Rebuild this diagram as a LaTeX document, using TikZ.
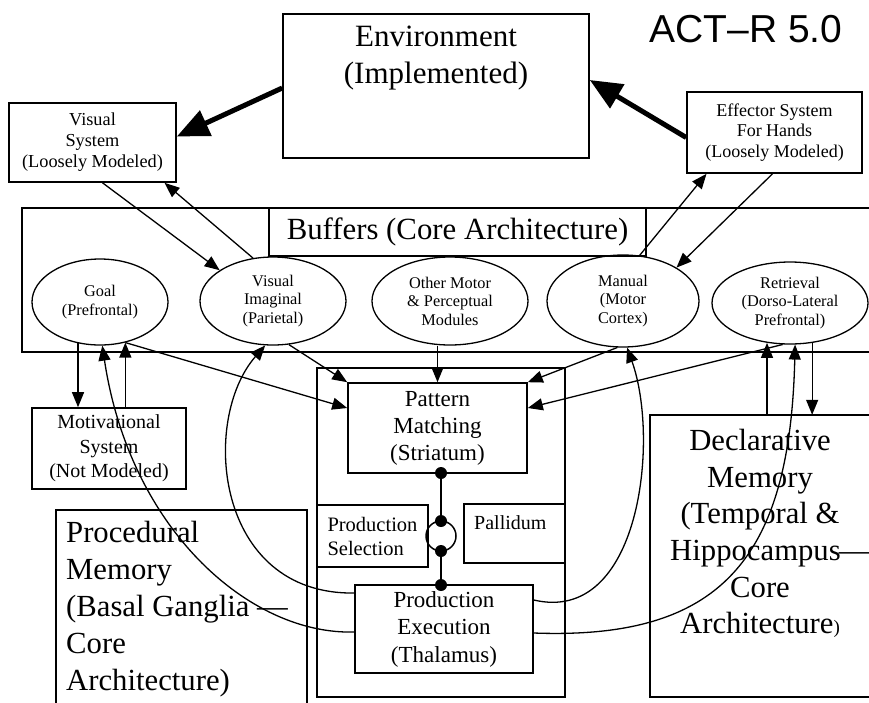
\documentclass[tikz,border=0pt]{standalone}
\usepackage{fontspec}
\setmainfont{Liberation Serif}
\newfontfamily\actfont{Liberation Sans}
\usetikzlibrary{shapes.geometric,arrows.meta,calc}
\tikzset{
  box/.style={draw, rectangle, line width=1.6pt, inner sep=0pt, align=center},
  openbox/.style={rectangle, inner sep=0pt},
  frame/.style={line width=1.6pt},
  thinbox/.style={draw, rectangle, line width=1.2pt, inner sep=0pt, align=center},
  ell/.style={draw, ellipse, line width=1.3pt, inner sep=0pt, align=center, font=\fontsize{16.3}{18.5}\selectfont},
  arr/.style={line width=1.3pt, -{Triangle[length=15pt,width=12pt]}},
  bigarr/.style={line width=5pt, -{Triangle[length=32pt,width=27pt]}},
  dotn/.style={circle, fill, inner sep=0pt, minimum size=12pt},
  txt/.style={inner sep=0pt, align=center},
}
\begin{document}
\begin{tikzpicture}[x=1pt,y=-1pt]
\useasboundingbox (0,0) rectangle (869,702);
\clip (0,0) rectangle (869,702);
\fill[white] (0,0) rectangle (869,702);

% large frames (open on the right: they run off the picture)
\node[openbox, minimum width=858pt, minimum height=144pt] (buf) at (451,280) {};
\draw[frame] (buf.north east) -- (buf.north west) -- (buf.south west) -- (buf.south east);
\node[box, minimum width=377pt, minimum height=48pt, font=\fontsize{30.8}{36}\selectfont] (bt) at (457.5,232) {Buffers (Core Architecture)};
\node[thinbox, minimum width=248pt, minimum height=329pt] (col) at (441,532.5) {};
\node[openbox, minimum width=251pt, minimum height=200pt] (prm) at (181.5,610) {};
\draw[frame] (prm.south west) -- (prm.north west) -- (prm.north east) -- (prm.south east);
\node[openbox, minimum width=230pt, minimum height=282pt] (dm) at (765,556) {};
\draw[frame] (dm.north east) -- (dm.north west) -- (dm.south west) -- (dm.south east);

% top row
\node[box, minimum width=306pt, minimum height=144pt] (env) at (436,86) {};
\node[txt, font=\fontsize{31}{37}\selectfont] (envtxt) at (436,58.5) {Environment\\(Implemented)};
\node[anchor=base, inner sep=0pt, font=\actfont\fontsize{39}{39}\selectfont] (title) at (746,42) {ACT–R 5.0};
\node[box, minimum width=167pt, minimum height=79pt, font=\fontsize{18.3}{21}\selectfont] (vs) at (92.5,142.5) {Visual\\System\\(Loosely Modeled)};
\node[box, minimum width=175pt, minimum height=81pt, font=\fontsize{18}{20.5}\selectfont] (eff) at (774.5,132.5) {Effector System\\For Hands\\(Loosely Modeled)};

% buffers
\node[ell, minimum width=136pt, minimum height=86pt] (goal) at (100,302) {Goal\\(Prefrontal)};
\node[ell, minimum width=146pt, minimum height=88pt] (vi) at (273,301) {Visual\\Imaginal\\(Parietal)};
\node[ell, minimum width=156pt, minimum height=88pt] (om) at (450,301) {Other Motor\\\& Perceptual\\Modules};
\node[ell, minimum width=152pt, minimum height=92pt] (man) at (623,301) {Manual\\(Motor\\Cortex)};
\node[ell, minimum width=156pt, minimum height=82pt] (ret) at (790,303) {Retrieval\\(Dorso-Lateral\\Prefrontal)};

% lower boxes
\node[box, minimum width=154pt, minimum height=81pt, font=\fontsize{20}{24.5}\selectfont] (mot) at (109,448.5) {Motivational\\System\\(Not Modeled)};
\node[box, minimum width=179pt, minimum height=90pt, font=\fontsize{23}{27}\selectfont] (pm) at (437.5,428) {Pattern\\Matching\\(Striatum)};
\node[thinbox, minimum width=111pt, minimum height=62pt, align=left, font=\fontsize{20.5}{24}\selectfont] (ps) at (372.5,536) {Production\\Selection};
\node[thinbox, minimum width=101pt, minimum height=59pt] (pal) at (514.5,533.5) {};
\node[anchor=west, inner sep=0pt, font=\fontsize{20}{24}\selectfont] (paltxt) at (474,523) {Pallidum};
\node[box, minimum width=178pt, minimum height=88pt, font=\fontsize{23}{27.5}\selectfont] (pe) at (444,629) {Production\\Execution\\(Thalamus)};

\node[anchor=west, inner sep=0pt, align=left, font=\fontsize{30.7}{37}\selectfont] (prmtxt) at (66,609) {Procedural\\Memory\\(Basal Ganglia —\\Core\\Architecture)};
\node[txt, font=\fontsize{30.7}{36.7}\selectfont] (dmtxt) at (760,533.5) {Declarative\\Memory\\(Temporal \&\\\hspace{-9pt}Hippocampus\rlap{\hspace{-2pt}—}\\Core\\Architecture{\fontsize{19}{19}\selectfont)}};

% dots and loop
\node[dotn] (d1) at (441,473) {};
\node[dotn] (d2) at (441,521) {};
\node[dotn] (d3) at (441,551) {};
\node[dotn] (d4) at (441,585) {};
\node[circle, draw, line width=1.5pt, minimum size=30pt, inner sep=0pt] (loop) at (441,536) {};
\draw[line width=1.5pt] (d1) -- (d2);
\draw[line width=1.5pt] (d3) -- (d4);

% thick arrows
\draw[bigarr] ([yshift=-2pt]env.west) -- ([yshift=6pt]vs.east);
\draw[bigarr] ([yshift=-5pt]eff.west) -- ([yshift=6pt]env.east);

% perceptual / motor links
\draw[arr] ([xshift=10pt]vs.south) -- (vi.150);
\draw[arr] (vi.115) -- ([xshift=72pt]vs.south);
\draw[arr] (man.70) -- ([xshift=-68pt]eff.south);
\draw[arr] ([xshift=-2pt]eff.south) -- (man.32);

% goal and motivational
\draw[arr] (goal.-118) -- (goal.-118 |- mot.north);
\draw[arr] (goal.-58 |- mot.north) -- (goal.-58);

% buffers to pattern matching
\draw[arr] (goal.-58) -- ([yshift=20pt]pm.west);
\draw[arr] (vi.-70) -- (pm.north west);
\draw[arr] (om.south -| pm.north) -- (pm.north);
\draw[arr] (man.-97) -- (pm.north east);
\draw[arr] (ret.-100) -- ([yshift=20pt]pm.east);

% retrieval and declarative
\draw[arr] (ret.-120 |- dm.north) -- (ret.-120);
\draw[arr] (ret.-61) -- (ret.-61 |- dm.north);

% production execution to buffers
\draw[arr] ([yshift=-3pt]pe.west) .. controls (250,635) and (130,530) .. (goal.-87);
\draw[arr] ([yshift=36pt]pe.west) .. controls (215,595) and (200,420) .. (vi.-100);
\draw[arr] ([yshift=29pt]pe.east) .. controls (640,625) and (660,440) .. (man.-85);
\draw[arr] ([yshift=-4pt]pe.east) .. controls (720,640) and (790,560) .. (ret.-83);
\end{tikzpicture}
\end{document}
